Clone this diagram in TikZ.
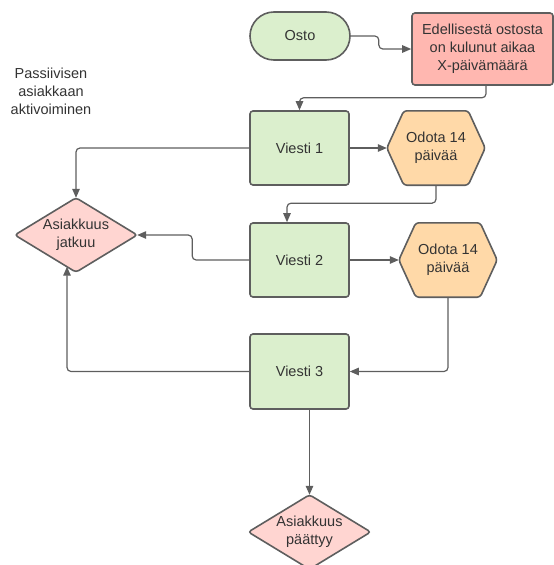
\documentclass[tikz,border=0pt]{standalone}
\usepackage{fontspec}
\setmainfont{Liberation Sans}
\usetikzlibrary{arrows.meta,backgrounds,calc}
\definecolor{edge}{HTML}{5E5E5E}
\definecolor{ink}{HTML}{333333}
\definecolor{greenfill}{HTML}{DBEFCD}
\definecolor{redfill}{HTML}{FFB7B0}
\definecolor{pinkfill}{HTML}{FFD5D1}
\definecolor{orangefill}{HTML}{FFD9A8}
\tikzset{
  label text/.style={text=ink, align=center, inner sep=0pt, font=\fontsize{14.5}{18}\selectfont},
  base/.style={label text, draw=edge, line width=1.6pt},
  stepbox/.style={base, fill=greenfill, rounded corners=3pt, minimum width=99pt, minimum height=74pt},
  startbox/.style={base, fill=greenfill, rounded corners=24pt, minimum width=100pt, minimum height=48pt},
  alertbox/.style={base, fill=redfill, rounded corners=3pt, minimum width=141pt, minimum height=72pt},
  decision/.style={label text, minimum width=122pt, minimum height=74pt},
  waitbox/.style={label text, minimum width=98pt, minimum height=74pt},
  outline/.style={draw=edge, line width=1.6pt, rounded corners=3pt},
  conn/.style={draw=edge, line width=1.2pt, rounded corners=4pt, -{Triangle[length=9pt,width=7.5pt]}},
}
\begin{document}
\begin{tikzpicture}[x=1pt,y=-1pt]
\useasboundingbox (0,0) rectangle (554,565);

% heading
\node[label text] (title) at (51,91) {Passiivisen\\asiakkaan\\aktivoiminen};

% nodes
\node[startbox] (osto) at (300,36) {Osto};
\node[alertbox] (red) at (482.5,49) {Edellisestä ostosta\\on kulunut aikaa\\X-päivämäärä};
\node[stepbox] (v1) at (299.5,148) {Viesti 1};
\node[waitbox] (h1) at (436,148) {Odota 14\\päivää};
\node[decision] (d1) at (76,235) {Asiakkuus\\jatkuu};
\node[stepbox] (v2) at (299.5,260) {Viesti 2};
\node[waitbox] (h2) at (448,260) {Odota 14\\päivää};
\node[stepbox, minimum height=75pt] (v3) at (299.5,371.5) {Viesti 3};
\node[decision] (d2) at (309.5,532) {Asiakkuus\\päättyy};

% hexagon and diamond outlines behind their labels
\begin{scope}[on background layer]
  \foreach \h in {h1,h2}{
    \path[outline, fill=orangefill] (\h.west) -- ($(\h.north west)+(17,0)$) -- ($(\h.north east)+(-17,0)$)
      -- (\h.east) -- ($(\h.south east)+(-17,0)$) -- ($(\h.south west)+(17,0)$) -- cycle;
  }
  \foreach \d in {d1,d2}{
    \path[outline, fill=pinkfill] (\d.west) -- (\d.north) -- (\d.east) -- (\d.south) -- cycle;
  }
\end{scope}

% connectors
\draw[conn] (osto.east) -- ++(28,0) |- (red.west);
\draw[conn] ([xshift=3.5pt]red.south) -- ++(0,12) -| (v1.north);
\draw[conn] (v1.east) -- (h1.west);
\draw[conn] (v1.west) -| (d1.north);
\draw[conn] (h1.south) -- ++(0,18) -| ([xshift=-12.5pt]v2.north);
\draw[conn] (v2.east) -- (h2.west);
\draw[conn] (v2.west) -- ++(-57,0) |- (d1.east);
\draw[conn] (h2.south) |- (v3.east);
\coordinate (d1low) at ([xshift=-9pt,yshift=5.5pt]d1.south);
\draw[conn] (v3.west) -| (d1low);
\draw[conn] ([xshift=10pt]v3.south) -- (d2.north);
\end{tikzpicture}
\end{document}
